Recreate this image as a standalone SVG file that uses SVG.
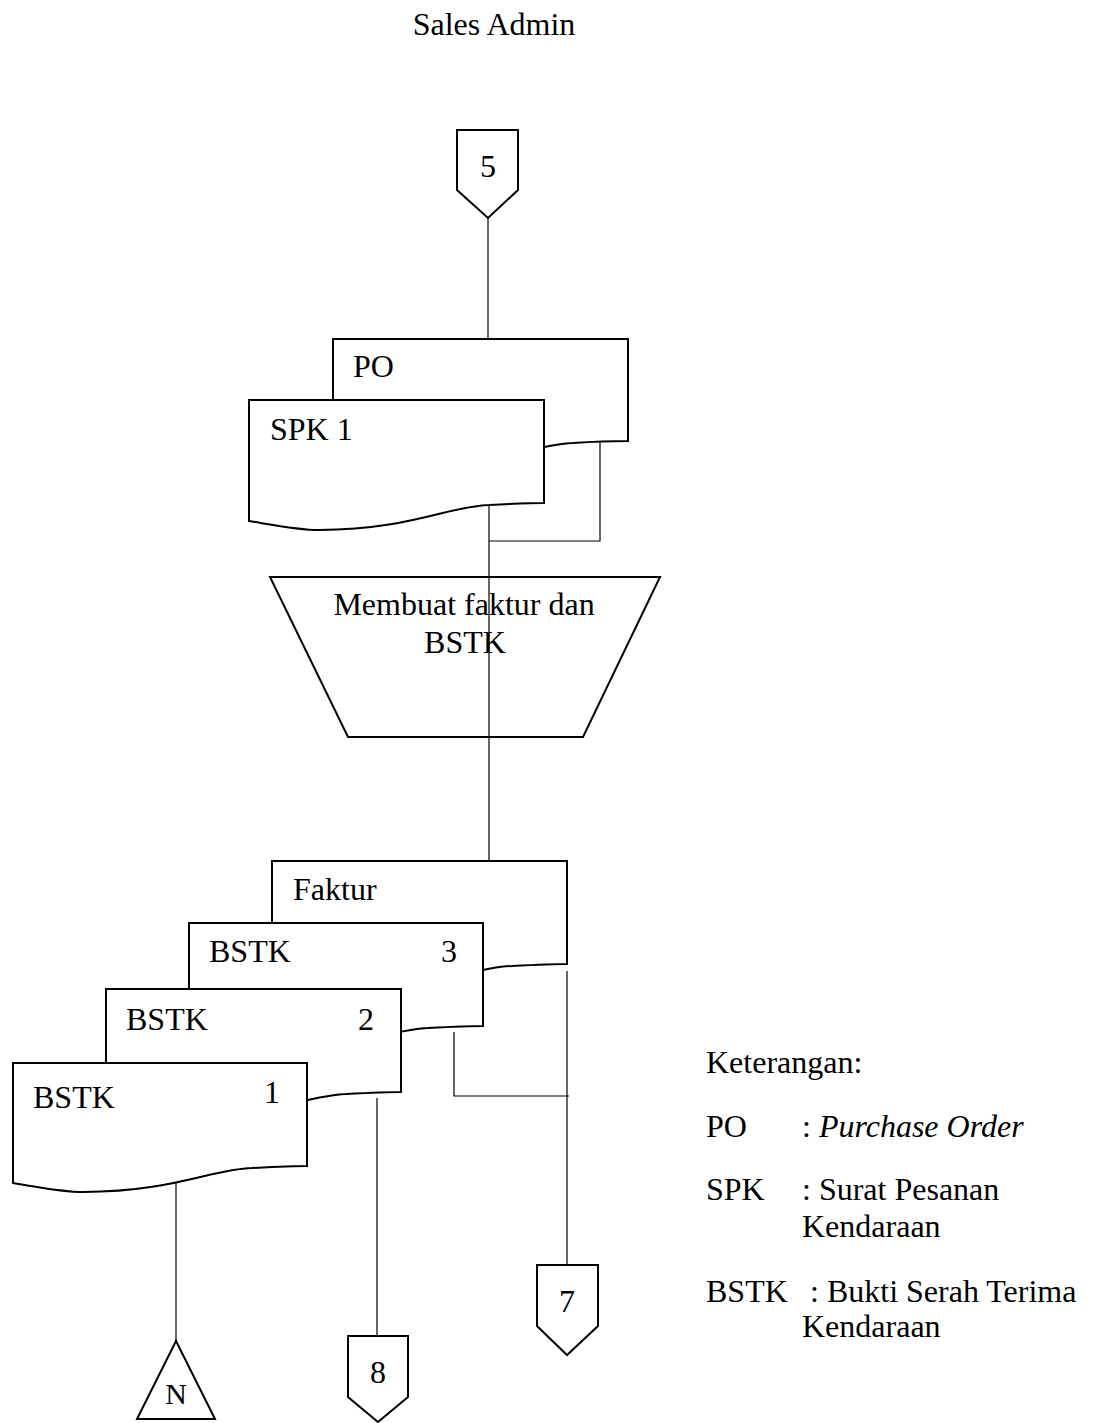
<svg xmlns="http://www.w3.org/2000/svg" width="1096" height="1423" viewBox="0 0 1096 1423">
<style>
.s{fill:#fff;stroke:#000;stroke-width:2;stroke-linejoin:miter}
.c{fill:none;stroke:#000;stroke-width:1.2}
.t{font-family:"Liberation Serif","Times New Roman",serif;font-size:32px;fill:#000}
.m{text-anchor:middle}
</style>
<rect width="1096" height="1423" fill="#fff"/>
<text class="t m" x="494" y="35">Sales Admin</text>

<g id="conn5">
<path class="s" d="M457,130 H518 V190 L488,218 L457,190 Z"/>
<text class="t m" x="488" y="177">5</text>
</g>

<g id="docPO">
<path class="s" d="M333,441 V339 H628 V441 C608,441 588,442 573,443 C533,444 493,467 403,469 C383,469 363,464 333,459 Z"/>
<text class="t" x="353" y="377">PO</text>
</g>
<g id="docSPK1">
<path class="s" d="M249,521 V400 H544 V503 C529,503 509,504 489,505 C449,506 409,530 319,530 C299,530 279,526 249,521 Z"/>
<text class="t" x="270" y="440">SPK 1</text>
</g>

<g id="process">
<polygon class="s" points="270,577 660,577 583,737 348,737"/>
<text class="t m" x="464" y="615">Membuat faktur dan</text>
<text class="t m" x="465" y="653">BSTK</text>
</g>

<g id="docFaktur">
<path class="s" d="M272,982 V861 H567 V964 C552,964 532,965 512,966 C472,967 432,991 342,991 C322,991 302,987 272,982 Z"/>
<text class="t" x="293" y="900">Faktur</text>
</g>
<g id="docBSTK3">
<path class="s" d="M189,1044 V923 H483 V1026 C468,1026 448,1027 428,1028 C388,1029 348,1053 259,1053 C239,1053 219,1049 189,1044 Z"/>
<text class="t" x="209" y="962">BSTK</text>
<text class="t" x="441" y="962">3</text>
</g>
<g id="docBSTK2">
<path class="s" d="M106,1110 V989 H401 V1092 C386,1092 366,1093 346,1094 C306,1095 266,1119 176,1119 C156,1119 136,1115 106,1110 Z"/>
<text class="t" x="126" y="1030">BSTK</text>
<text class="t" x="358" y="1030">2</text>
</g>
<g id="docBSTK1">
<path class="s" d="M13,1183 V1063 H307 V1166 C292,1166 272,1167 252,1168 C212,1169 172,1192 83,1192 C63,1192 43,1188 13,1183 Z"/>
<text class="t" x="33" y="1108">BSTK</text>
<text class="t" x="264" y="1103">1</text>
</g>

<g id="conn7">
<path class="s" d="M537,1265 H598 V1326 L567,1355 L537,1326 Z"/>
<text class="t m" x="567" y="1312">7</text>
</g>
<g id="conn8">
<path class="s" d="M348,1336 H408 V1397 L378,1422 L348,1397 Z"/>
<text class="t m" x="378" y="1383">8</text>
</g>
<g id="offpageN">
<polygon class="s" points="176,1341 215,1419 137,1419"/>
<text class="t m" x="176" y="1404" style="font-size:30px">N</text>
</g>

<g id="connectors">
<line class="c" x1="488" y1="218" x2="488" y2="339"/>
<line class="c" x1="489" y1="505" x2="489" y2="861"/>
<polyline class="c" points="600,441 600,541 489,541"/>
<line class="c" x1="567" y1="971" x2="567" y2="1265"/>
<polyline class="c" points="454,1032 454,1096 569,1096"/>
<line class="c" x1="377" y1="1098" x2="377" y2="1336"/>
<line class="c" x1="176" y1="1183" x2="176" y2="1341"/>
</g>

<g id="legend">
<text class="t" x="706" y="1073">Keterangan:</text>
<text class="t" x="706" y="1137">PO</text>
<text class="t" x="802" y="1137">: <tspan font-style="italic">Purchase Order</tspan></text>
<text class="t" x="706" y="1200">SPK</text>
<text class="t" x="802" y="1200">: Surat Pesanan</text>
<text class="t" x="802" y="1237">Kendaraan</text>
<text class="t" x="706" y="1302">BSTK</text>
<text class="t" x="810" y="1302">: Bukti Serah Terima</text>
<text class="t" x="802" y="1337">Kendaraan</text>
</g>
</svg>
